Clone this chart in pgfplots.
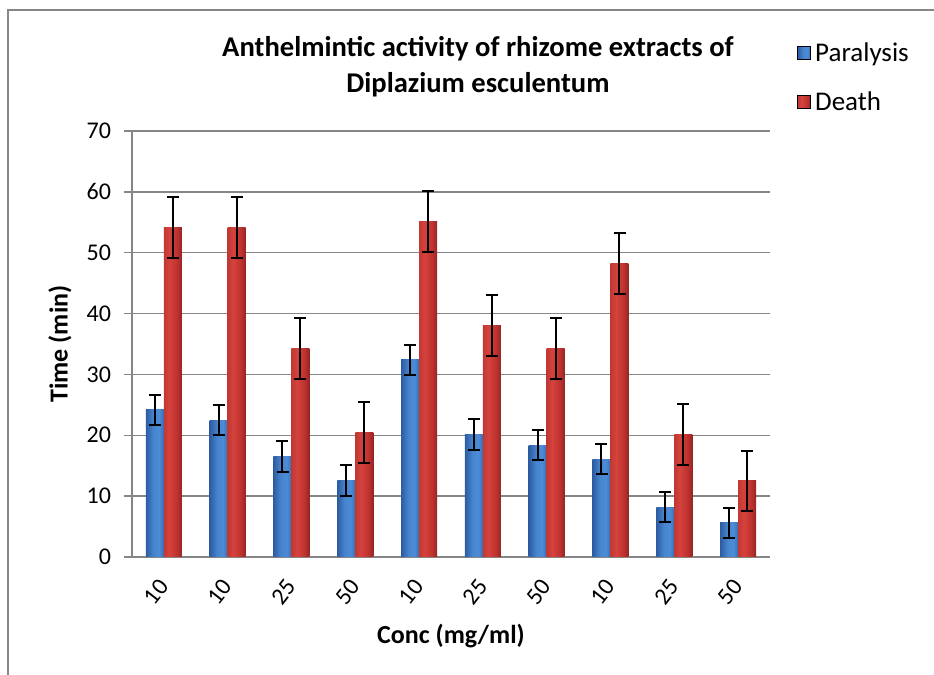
\documentclass[border=0pt]{standalone}
\usepackage{fontspec}
\setmainfont{Carlito}
\usepackage{pgfplots}
\usepackage{pgfplotstable}
\pgfplotsset{compat=1.18}
\definecolor{gridgray}{RGB}{134,134,134}
\definecolor{bA}{RGB}{45,92,162}
\definecolor{bB}{RGB}{70,132,206}
\definecolor{bC}{RGB}{76,140,214}
\definecolor{bD}{RGB}{55,108,180}
\definecolor{rA}{RGB}{192,56,52}
\definecolor{rB}{RGB}{214,66,60}
\definecolor{rC}{RGB}{188,50,47}
\definecolor{rD}{RGB}{150,36,36}
\pgfdeclarehorizontalshading{blueshade}{100bp}{color(0bp)=(bA); color(25bp)=(bA); color(45bp)=(bB); color(62bp)=(bC); color(75bp)=(bD); color(100bp)=(bD)}
\pgfdeclarehorizontalshading{redshade}{100bp}{color(0bp)=(rA); color(25bp)=(rA); color(40bp)=(rB); color(62bp)=(rC); color(75bp)=(rD); color(100bp)=(rD)}
\pgfplotstableread{
x  P     Pe   D     De
0  24.2  2.5  54.2  5.0
1  22.5  2.5  54.1  5.0
2  16.5  2.5  34.2  5.0
3  12.6  2.5  20.5  5.0
4  32.4  2.5  55.2  5.0
5  20.1  2.5  38.0  5.0
6  18.4  2.5  34.2  5.0
7  16.1  2.5  48.2  5.0
8  8.2   2.5  20.1  5.0
9  5.6   2.5  12.5  5.0
}\datatable
\begin{document}
\begin{tikzpicture}
\path[use as bounding box] (0,0) rectangle (467pt,337.5pt);
\draw[gridgray, line width=0.75pt] (4pt,0) -- (4pt,332.5pt) -- (467pt,332.5pt);
\begin{axis}[
  at={(66pt,59pt)}, anchor=south west,
  scale only axis, width=319pt, height=213pt,
  xmin=-0.5, xmax=9.5, ymin=0, ymax=70,
  ytick={0,10,...,70},
  xtick={0,...,9},
  xticklabels={10,10,25,50,10,25,50,10,25,50},
  axis x line*=bottom, axis y line*=left,
  axis line style={gridgray, line width=0.75pt},
  ymajorgrids, grid style={gridgray, line width=0.75pt},
  tick align=outside,
  major tick length=4pt,
  x tick style={draw=none},
  y tick style={gridgray, line width=0.75pt},
  /pgf/number format/assume math mode=true,
  tick label style={font=\fontsize{12}{14}\selectfont, black},
  yticklabel style={xshift=-3pt},
  xticklabel style={xshift=2pt, yshift=-6pt, rotate=52, anchor=east},
  xlabel={Conc (mg/ml)},
  ylabel={Time (min)},
  label style={font=\bfseries\fontsize{13}{15}\selectfont},
  xlabel style={at={(axis description cs:0.5,-0.1854)}, anchor=center},
  ylabel style={at={(axis description cs:-0.1129,0.5)}, anchor=center},
  title={Anthelmintic activity of rhizome extracts of\\Diplazium esculentum},
  title style={at={(axis description cs:0.5423,1.122)}, anchor=center, align=center, font=\bfseries\fontsize{14.3}{18}\selectfont},
  legend style={at={(axis description cs:1.0423,1.218)}, anchor=north west, draw=none, fill=none, inner sep=0pt, font=\fontsize{13.5}{16}\selectfont, row sep=9.5pt},
  legend cell align=left,
  clip=false,
]
\pgfplotsinvokeforeach{0,...,9}{
  \addplot[forget plot, ybar, bar width=9pt, bar shift=-4.5pt, draw=none, shade, shading=blueshade,
    restrict expr to domain={\coordindex}{#1:#1}]
    table[x=x, y=P]{\datatable};
  \addplot[forget plot, ybar, bar width=9pt, bar shift=4.5pt, draw=none, shade, shading=redshade,
    restrict expr to domain={\coordindex}{#1:#1}]
    table[x=x, y=D]{\datatable};
}
\addlegendimage{legend image code/.code={\fill[shade, shading=blueshade] (0pt,-3pt) rectangle (6.5pt,3.5pt);}}
\addlegendentry{Paralysis}
\addlegendimage{legend image code/.code={\fill[shade, shading=redshade] (0pt,-3pt) rectangle (6.5pt,3.5pt);}}
\addlegendentry{Death}
\addplot[forget plot, draw=none, no markers, xshift=-4.5pt,
  error bars/.cd, y dir=both, y explicit,
  error bar style={draw=black, solid, line width=1pt},
  error mark options={draw=black, solid, line width=1pt, mark size=3pt, rotate=90}]
  table[x=x, y=P, y error=Pe]{\datatable};
\addplot[forget plot, draw=none, no markers, xshift=4.5pt,
  error bars/.cd, y dir=both, y explicit,
  error bar style={draw=black, solid, line width=1pt},
  error mark options={draw=black, solid, line width=1pt, mark size=3pt, rotate=90}]
  table[x=x, y=D, y error=De]{\datatable};
\end{axis}
\end{tikzpicture}
\end{document}
